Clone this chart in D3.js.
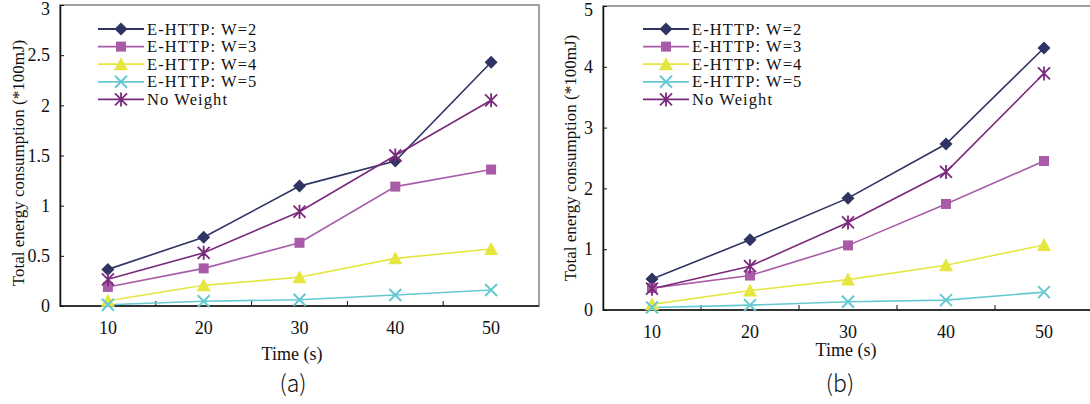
<!DOCTYPE html>
<html>
<head>
<meta charset="utf-8">
<script src="https://cdn.jsdelivr.net/npm/d3@7"></script>
<style>
  body { margin: 0; background: #fff; }
  svg { display: block; }
  text { font-family: "Liberation Serif", "Times New Roman", serif; fill: #111; }
</style>
</head>
<body>
<script>
// categories and series
var times = [10, 20, 30, 40, 50];
var seriesNames = ['E-HTTP: W=2', 'E-HTTP: W=3', 'E-HTTP: W=4', 'E-HTTP: W=5', 'No Weight'];

// chart (a)
var aW2 = [0.365, 0.685, 1.195, 1.445, 2.43];
var aW3 = [0.19, 0.375, 0.63, 1.19, 1.36];
var aW4 = [0.053, 0.206, 0.286, 0.475, 0.568];
var aW5 = [0.013, 0.047, 0.063, 0.11, 0.16];
var aNW = [0.266, 0.53, 0.94, 1.5, 2.05];

// chart (b)
var bW2 = [0.51, 1.155, 1.84, 2.73, 4.31];
var bW3 = [0.36, 0.567, 1.063, 1.744, 2.45];
var bW4 = [0.093, 0.32, 0.5, 0.736, 1.07];
var bW5 = [0.04, 0.08, 0.136, 0.163, 0.294];
var bNW = [0.35, 0.72, 1.44, 2.27, 3.89];

var aTicks = [0, 0.5, 1, 1.5, 2, 2.5, 3];
var bTicks = [0, 1, 2, 3, 4, 5];

var colors = ['#2f3462', '#a85ca8', '#e6e640', '#66c9d2', '#7a2a7c'];
var shapes = ['diamond', 'square', 'triangle', 'cross', 'star'];

var svg = d3.select('body').append('svg')
  .attr('width', 1090)
  .attr('height', 404);

function marker(g, shape, color, x, y) {
  if (shape === 'diamond') {
    g.append('path').attr('d', 'M0,-6.5L6.5,0L0,6.5L-6.5,0Z')
      .attr('transform', 'translate(' + x + ',' + y + ')').attr('fill', color);
  } else if (shape === 'square') {
    g.append('rect').attr('x', x - 5).attr('y', y - 5).attr('width', 10).attr('height', 10)
      .attr('fill', color);
  } else if (shape === 'triangle') {
    g.append('path').attr('d', 'M0,-7L7,6L-7,6Z')
      .attr('transform', 'translate(' + x + ',' + y + ')').attr('fill', color);
  } else if (shape === 'cross') {
    g.append('path').attr('d', 'M-6,-6L6,6M-6,6L6,-6')
      .attr('transform', 'translate(' + x + ',' + y + ')')
      .attr('stroke', color).attr('stroke-width', 2).attr('fill', 'none');
  } else {
    g.append('path').attr('d', 'M-6,-6L6,6M-6,6L6,-6M0,-7L0,7')
      .attr('transform', 'translate(' + x + ',' + y + ')')
      .attr('stroke', color).attr('stroke-width', 1.8).attr('fill', 'none');
  }
}

function drawChart(opt) {
  var g = svg.append('g');
  var x = d3.scaleBand().domain(times).range([opt.left, opt.right]).padding(0);
  var y = d3.scaleLinear().domain([0, opt.ticks[opt.ticks.length - 1]]).range([opt.bottom, opt.top]);

  // plot area border (grey)
  g.append('rect')
    .attr('x', opt.left).attr('y', opt.top)
    .attr('width', opt.right - opt.left).attr('height', opt.bottom - opt.top)
    .attr('fill', 'none').attr('stroke', '#a0a0a0').attr('stroke-width', 2);

  // y axis
  var yAxis = d3.axisLeft(y).tickValues(opt.ticks).tickSizeInner(-4).tickSizeOuter(0)
    .tickPadding(10).tickFormat(function(d) { return d; });
  var ya = g.append('g').attr('transform', 'translate(' + opt.left + ',0)').call(yAxis);
  ya.select('.domain').attr('stroke', '#111').attr('stroke-width', 1.5);
  ya.selectAll('.tick line').attr('stroke', '#111');
  ya.selectAll('text').attr('font-size', 18).attr('font-family', 'Liberation Serif').attr('fill', '#111')
    .attr('dy', function(d) { return d === opt.ticks[opt.ticks.length - 1] ? '0.5em' : '0.32em'; });

  // x axis: ticks between categories
  var xa = g.append('g').attr('transform', 'translate(0,' + opt.bottom + ')');
  xa.append('line').attr('x1', opt.left).attr('x2', opt.right)
    .attr('stroke', '#111').attr('stroke-width', 1.5);
  times.slice(1).forEach(function(t) {
    xa.append('line').attr('x1', x(t)).attr('x2', x(t)).attr('y1', 0).attr('y2', -5)
      .attr('stroke', '#111').attr('stroke-width', 1);
  });
  times.forEach(function(t) {
    xa.append('text').attr('x', x(t) + x.bandwidth() / 2).attr('y', 28)
      .attr('text-anchor', 'middle').attr('font-size', 18).text(t);
  });

  // axis titles
  g.append('text')
    .attr('transform', 'translate(' + opt.ylabelX + ',' + opt.ylabelY + ') rotate(-90)')
    .attr('text-anchor', 'middle').attr('font-size', 17)
    .text('Total energy consumption (*100mJ)');
  g.append('text').attr('x', opt.xlabelX).attr('y', opt.xlabelY)
    .attr('text-anchor', 'middle').attr('font-size', 18).text('Time (s)');
  g.append('text').attr('x', opt.capX).attr('y', 392)
    .attr('text-anchor', 'middle').attr('font-size', 23)
    .style('font-family', '"Noto Sans CJK SC", "DejaVu Sans", sans-serif')
    .style('font-weight', 300).attr('fill', '#333')
    .text(opt.caption);

  // series
  var line = d3.line()
    .x(function(d, i) { return x(times[i]) + x.bandwidth() / 2; })
    .y(function(d) { return y(d); });
  opt.series.forEach(function(s, k) {
    g.append('path').datum(s).attr('d', line)
      .attr('fill', 'none').attr('stroke', colors[k]).attr('stroke-width', 1.6);
  });
  opt.series.forEach(function(s, k) {
    s.forEach(function(v, i) {
      marker(g, shapes[k], colors[k], x(times[i]) + x.bandwidth() / 2, y(v));
    });
  });

  // legend
  seriesNames.forEach(function(name, k) {
    var ly = 29 + k * 17.6;
    g.append('line').attr('x1', opt.legX).attr('x2', opt.legX + 46)
      .attr('y1', ly).attr('y2', ly).attr('stroke', colors[k]).attr('stroke-width', 1.8);
    marker(g, shapes[k], colors[k], opt.legX + 23, ly);
    g.append('text').attr('x', opt.legX + 49).attr('y', ly + 5.5)
      .attr('font-size', 16.5).attr('letter-spacing', 1.1).text(name);
  });
}

drawChart({
  left: 60, right: 539, top: 5, bottom: 306,
  ticks: aTicks,
  series: [aW2, aW3, aW4, aW5, aNW],
  ylabelX: 24, ylabelY: 163,
  xlabelX: 292, xlabelY: 360,
  capX: 293, caption: '(a)',
  legX: 98
});

drawChart({
  left: 603, right: 1093, top: 6, bottom: 310,
  ticks: bTicks,
  series: [bW2, bW3, bW4, bW5, bNW],
  ylabelX: 576, ylabelY: 158,
  xlabelX: 846, xlabelY: 356,
  capX: 840, caption: '(b)',
  legX: 643
});
</script>
</body>
</html>
